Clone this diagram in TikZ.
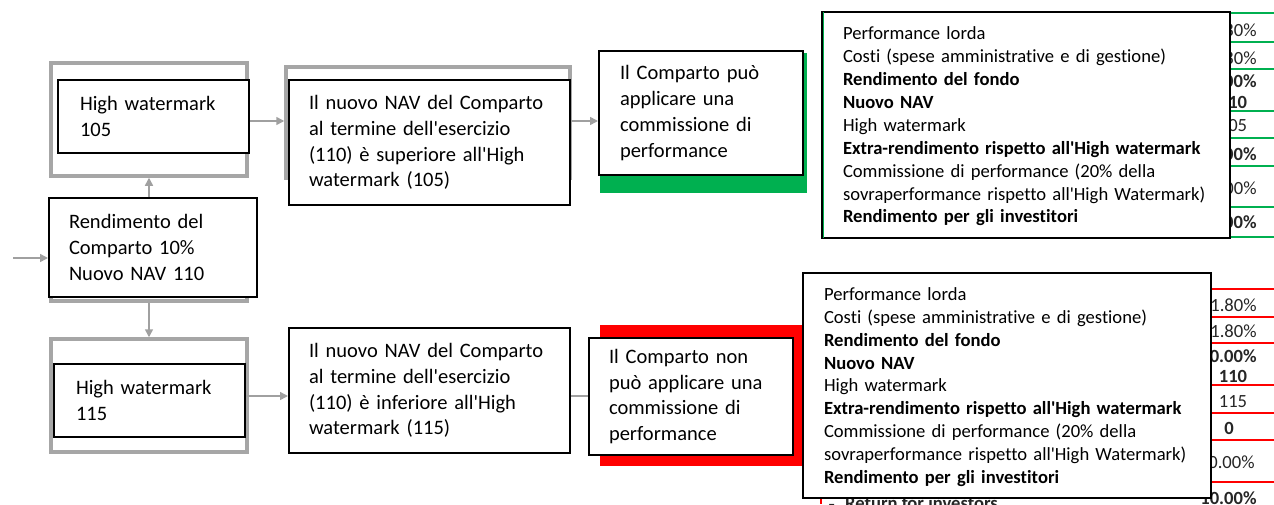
\documentclass[tikz,border=0pt]{standalone}
\usepackage{fontspec}
\setmainfont{Carlito}[Ligatures={TeXOff,NoCommon}]
\newfontfamily\symfont{DejaVu Sans}
\usetikzlibrary{arrows.meta}
\definecolor{grayln}{HTML}{A6A6A6}
\definecolor{arrgray}{HTML}{A0A0A0}
\definecolor{xlgreen}{HTML}{00B050}
\definecolor{xlred}{HTML}{FF0000}
\newcommand{\flowfont}{\fontsize{10.25}{12.9}\selectfont}
\newcommand{\tabfont}{\fontsize{9.3}{11.44}\selectfont}
\begin{document}
\begin{tikzpicture}[x=0.5pt,y=-0.5pt,
  flowbox/.style={draw=black,line width=1pt,fill=white,inner ysep=0pt,align=left,font=\flowfont,anchor=center},
  grayframe/.style={draw=grayln,line width=1.75pt,inner sep=0pt},
  backfill/.style={inner sep=0pt,draw=none},
  tabbox/.style={draw=black,line width=0.75pt,fill=white,inner ysep=0pt,inner xsep=10.5pt,text width=183pt,align=left,font=\tabfont},
  arr/.style={draw=arrgray,line width=0.75pt,-{Triangle[length=4pt,width=4pt]}},
  plainln/.style={draw=arrgray,line width=0.75pt},
  val/.style={font=\tabfont,inner sep=0pt,text=black!85},
  gcell/.style={draw=xlgreen,line width=1pt},
  rcell/.style={draw=xlred,line width=1pt}]
\useasboundingbox (0,0) rectangle (1274,504);

% coloured backings
\node[backfill,fill=xlgreen,minimum width=103.5pt,minimum height=70pt] (gpuo) at (703.5,123) {};
\node[backfill,fill=xlred,minimum width=101.5pt,minimum height=70.5pt] (rnon) at (701.5,395.5) {};

% grey frames
\node[grayframe,minimum width=98pt,minimum height=56.5pt] (g105) at (149,119.5) {};
\node[grayframe,minimum width=142pt,minimum height=55.5pt] (gnav1) at (428,122.5) {};
\node[grayframe,minimum width=98pt,minimum height=48pt] (grend) at (149,253) {};
\node[grayframe,minimum width=98pt,minimum height=56.5pt] (g115) at (149,395.5) {};

% flow boxes
\node[flowbox,minimum width=95.5pt,minimum height=36.5pt,inner xsep=11pt,text width=73.5pt] (hw105) at (153.5,116.5) {High watermark\\105};
\node[flowbox,minimum width=104pt,minimum height=49.5pt,inner xsep=10pt,text width=84pt] (rend) at (153,247.5) {Rendimento del\\Comparto 10\%\\Nuovo NAV 110};
\node[flowbox,minimum width=95.5pt,minimum height=36.5pt,inner xsep=11pt,text width=73.5pt] (hw115) at (149.5,400.5) {High watermark\\115};
\node[flowbox,minimum width=140.5pt,minimum height=62.5pt,inner xsep=10pt,text width=120.5pt] (nav1) at (429.5,142.5) {Il nuovo NAV del Comparto\\al termine dell'esercizio\\(110) è superiore all'High\\watermark (105)};
\node[flowbox,minimum width=140.5pt,minimum height=62.5pt,inner xsep=10pt,text width=120.5pt] (nav2) at (429.5,390.5) {Il nuovo NAV del Comparto\\al termine dell'esercizio\\(110) è inferiore all'High\\watermark (115)};
\node[flowbox,minimum width=102pt,minimum height=62pt,inner xsep=10.5pt,text width=81pt] (puo) at (701,113) {Il Comparto può\\applicare una\\commissione di\\performance};
\node[flowbox,minimum width=102pt,minimum height=58.5pt,inner xsep=10pt,text width=82pt] (nonpuo) at (691,396.5) {Il Comparto non\\può applicare una\\commissione di\\performance};

% connectors
\coordinate (in) at (13,258);
\coordinate (r1) at (0,121);
\coordinate (r2) at (0,396);
\draw[arr] (in) -- (in -| rend.west);
\draw[arr] (rend.north -| g105.south) -- (g105.south);
\draw[arr] (grend.south) -- (g115.north);
\draw[arr] (hw105.east |- r1) -- (gnav1.west |- r1);
\draw[arr] (nav1.east |- r1) -- (puo.west |- r1);
\draw[arr] (hw115.east |- r2) -- (nav2.west |- r2);
\draw[plainln] (nav2.east |- r2) -- (nonpuo.west |- r2);

% top table cells (partly hidden)
\foreach \yy in {13,42,69,111,138,166,207,237} \draw[gcell] (1222,\yy) -- (1274,\yy);
\node[val,anchor=east] (ta1) at (1257,30) {11.80\%};
\node[val,anchor=east] (ta2) at (1257,58) {1.80\%};
\node[val,anchor=east,font=\tabfont\bfseries] (ta3) at (1257,81) {10.00\%};
\node[val,font=\tabfont\bfseries] (ta4) at (1233,102) {110};
\node[val] (ta5) at (1233,126) {105};
\node[val,anchor=east,font=\tabfont\bfseries] (ta6) at (1257,154) {5.00\%};
\node[val,anchor=east] (ta7) at (1257,188) {1.00\%};
\node[val,anchor=east,font=\tabfont\bfseries] (ta8) at (1257,222) {9.00\%};

% bottom table cells (partly hidden)
\foreach \yy in {289,317,343,385,413,440,482} \draw[rcell] (1205,\yy) -- (1274,\yy);
\draw[rcell] (821,482) -- (821,504);
\node[val,anchor=east] (tb1) at (1257,305) {11.80\%};
\node[val,anchor=east] (tb2) at (1257,331) {1.80\%};
\node[val,anchor=east,font=\tabfont\bfseries] (tb3) at (1257,356) {10.00\%};
\node[val,font=\tabfont\bfseries] (tb4) at (1233,376) {110};
\node[val] (tb5) at (1233,402) {115};
\node[val,font=\tabfont\bfseries] (tb6) at (1229,428) {0};
\node[val,anchor=east] (tb7) at (1255,462) {0.00\%};
\node[val,anchor=east,font=\tabfont\bfseries] (tb8) at (1257,498) {10.00\%};
\node[val,anchor=west,font=\tabfont\bfseries] (ret) at (828,503) {{\symfont\tiny ▪}\hspace{5pt}Return for investors};

% tables
\node[tabbox,minimum width=204pt,minimum height=113pt] (tab1) at (1026,125) {\rule{0pt}{8pt}Performance lorda\\Costi (spese amministrative e di gestione)\\\textbf{Rendimento del fondo}\\\textbf{Nuovo NAV}\\High watermark\\\textbf{Extra-rendimento rispetto all'High watermark}\\Commissione di performance (20\% della\\sovraperformance rispetto all'High Watermark)\\\textbf{Rendimento per gli investitori}};
\node[tabbox,minimum width=204pt,minimum height=112.5pt] (tab2) at (1007,385.5) {\rule{0pt}{8pt}Performance lorda\\Costi (spese amministrative e di gestione)\\\textbf{Rendimento del fondo}\\\textbf{Nuovo NAV}\\High watermark\\\textbf{Extra-rendimento rispetto all'High watermark}\\Commissione di performance (20\% della\\sovraperformance rispetto all'High Watermark)\\\textbf{Rendimento per gli investitori}};
\draw[draw=xlgreen,line width=0.75pt] ([xshift=1.2pt,yshift=-0.5pt]tab1.north west) -- ([xshift=1.2pt,yshift=0.5pt]tab1.south west);
\end{tikzpicture}
\end{document}
